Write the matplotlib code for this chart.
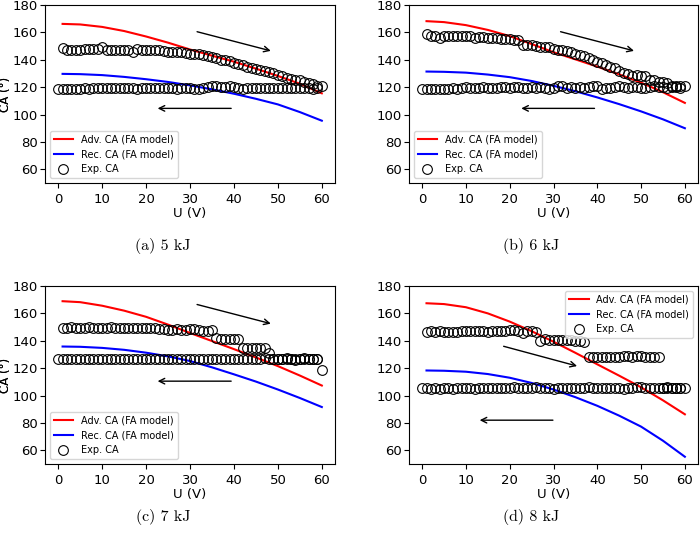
import numpy as np
import matplotlib
matplotlib.use("Agg")
import matplotlib.pyplot as plt

# model curves (FA model), sampled every 5 V
u_model = [1, 5, 10, 15, 20, 25, 30, 35, 40, 45, 50, 55, 60]
adv_a = [166.2, 165.8, 164.0, 161.0, 157.0, 152.5, 147.5, 143.0, 138.6, 133.5, 128.2, 122.5, 115.5]
rec_a = [129.7, 129.5, 128.8, 127.5, 125.8, 123.8, 121.3, 118.4, 115.2, 111.5, 107.4, 101.8, 95.5]
adv_b = [168.2, 167.5, 165.3, 161.8, 157.3, 151.5, 145.5, 140.3, 135.0, 129.3, 123.3, 116.3, 108.5]
rec_b = [131.4, 131.2, 130.6, 129.2, 127.3, 124.5, 121.0, 117.0, 112.5, 107.6, 102.3, 96.5, 90.0]
adv_c = [168.9, 168.2, 165.6, 162.0, 157.5, 151.8, 145.7, 139.8, 133.9, 127.8, 121.5, 114.6, 107.3]
rec_c = [135.8, 135.6, 134.8, 133.4, 131.3, 128.6, 125.2, 120.6, 115.5, 110.2, 104.4, 98.2, 91.6]
adv_d = [167.4, 166.8, 164.5, 160.0, 154.0, 147.0, 139.3, 131.2, 122.8, 114.5, 106.0, 96.5, 86.3]
rec_d = [118.3, 118.1, 117.4, 115.7, 113.0, 109.2, 104.4, 98.8, 92.5, 85.3, 77.3, 67.0, 55.3]

# experimental CA: upper branch U = 1..60, lower branch U = 0..59
up_a = [148.5, 147.5, 147.5, 147.5, 147.5, 148, 148, 148, 148, 149, 147.5, 147, 147, 147.5, 147.5,
        147.5, 145.5, 148, 147, 147, 147.5, 147, 147, 146.5, 146, 145.5, 145.5, 145.5, 145, 144.5,
        144.5, 144, 143.5, 143, 142, 141, 140, 139.5, 139, 138, 137, 136, 135, 134, 133.5,
        132.5, 131.5, 131, 130, 129, 128, 127, 126, 125.5, 125, 124, 123, 122, 121, 121]
low_a = [118.5, 119, 119, 119, 118.5, 119, 119.5, 119, 119.5, 119.5, 119.5, 119.5, 119.5, 119.5, 119.5,
         119.5, 119.5, 119.5, 119, 119.5, 119.5, 119.5, 119.5, 119.5, 119.5, 119.5, 119.5, 119, 119.5, 119.5,
         119.5, 119, 119, 119.5, 120, 120.5, 120.5, 120, 120, 121, 120, 119.5, 119, 119.5, 119.5,
         119.5, 119.5, 119.5, 119.5, 119.5, 119.5, 119.5, 119.5, 119.5, 119.5, 119.5, 119.5, 119.5, 119, 119.5]
up_b = [158.5, 157.5, 157, 156, 157.5, 157, 157, 157, 157, 157.5, 157, 156, 156.5, 156.5, 156,
        156, 156, 155.5, 155, 155, 154.5, 154.5, 151, 150.5, 151, 150, 149.5, 149.5, 149, 148,
        147, 147, 146.5, 145.5, 144.5, 143.5, 142.5, 141.5, 140, 138.5, 138, 136.5, 135, 134, 132,
        130.5, 129.5, 128.5, 129, 128.5, 128, 125, 125.5, 124, 124, 123, 121, 120.5, 120.5, 120.5]
low_b = [119, 119, 119, 119, 119, 119, 119, 119.5, 119, 119.5, 120, 119.5, 119.5, 119.5, 120,
         119.5, 119.5, 119.5, 120, 120, 119.5, 120, 120, 119.5, 119.5, 120, 119.5, 120, 119.5, 119,
         119.5, 120.5, 120.5, 119.5, 120, 119.5, 120, 119.5, 120, 120.5, 120.5, 119, 119.5, 119.5, 120,
         120.5, 120, 119.5, 120, 120, 119.5, 119.5, 120, 120.5, 120, 120, 119.5, 120, 120, 119.5]
up_c = [149, 149.5, 150, 149.5, 149, 149.5, 150, 149.5, 149, 149.5, 149.5, 150, 149, 149.5, 149.5,
        149.5, 149, 149, 149, 149, 149, 149, 148.5, 148.5, 148, 148, 148.5, 148, 148, 148.5,
        148.5, 148, 147.5, 147.5, 148, 142, 141.5, 141, 141, 141.5, 141.5, 135, 134.5, 134.5, 135,
        135, 134.5, 131, 127, 127, 127, 127.5, 127, 126, 127, 127.5, 127, 127, 126.5, 119]
low_c = [126.5, 127, 127, 127, 126.5, 126.5, 127, 127, 126.5, 127, 127, 127, 127, 127, 127,
         126.5, 127, 127, 127, 127, 127, 126.5, 127, 127, 127, 127, 126.5, 127, 127, 127,
         127, 127, 127, 127, 126.5, 127, 127, 127, 127, 127, 127, 127, 127, 127, 127,
         127, 127, 127.5, 127, 127, 127, 127, 127, 127, 127, 127, 127, 127, 127, 126.5]
up_d = [146.5, 147, 146.5, 147, 146.5, 146.5, 146.5, 146.5, 147, 147, 147, 147, 147, 147.5, 146.5,
        147, 147, 147.5, 147.5, 148, 148, 147, 146, 147, 147, 146.5, 140, 141, 140.5, 140.5,
        140.5, 140.5, 140.5, 140.5, 140, 140, 139, 128, 128.5, 128.5, 128.5, 128.5, 128.5, 128, 128.5,
        129, 129, 128.5, 129, 129, 128.5, 128, 128, 128, 105.5, 105.5, 105.5, 105.5, 105.5, 105.5]
low_d = [105.5, 105.5, 105, 105.5, 105, 105.5, 105.5, 105, 105.5, 105.5, 105.5, 105.5, 105, 105.5, 105.5,
         105.5, 105.5, 105.5, 105.5, 105.5, 105.5, 106, 105.5, 105.5, 105.5, 105.5, 106, 105.5, 105.5, 105.5,
         105, 105.5, 105.5, 105.5, 105.5, 105.5, 105.5, 105.5, 106, 105.5, 105.5, 105.5, 105.5, 105.5, 105.5,
         105.5, 105, 105.5, 105.5, 106, 106, 105.5, 105.5, 105.5, 105.5, 105.5, 106, 105.5, 105.5, 105.5]

# arrows: (tail, head) in data coords
arrows_a = [((31, 161), (49, 146)), ((40, 104.5), (22, 104.5))]
arrows_b = [((31, 161), (49, 146)), ((40, 104.5), (22, 104.5))]
arrows_c = [((31, 167), (49, 152)), ((40, 110.5), (22, 110.5))]
arrows_d = [((18, 136.5), (36, 121)), ((30.5, 82), (12.5, 82))]

captions = ["(a) 5 kJ", "(b) 6 kJ", "(c) 7 kJ", "(d) 8 kJ"]

panels = [
    (adv_a, rec_a, up_a, low_a, arrows_a, "lower left"),
    (adv_b, rec_b, up_b, low_b, arrows_b, "lower left"),
    (adv_c, rec_c, up_c, low_c, arrows_c, "lower left"),
    (adv_d, rec_d, up_d, low_d, arrows_d, "upper right"),
]

W, H = 700, 535
fig = plt.figure(figsize=(7, 5.35), dpi=100)

# axes boxes in pixels: left, top, right, bottom
boxes = [(45, 5, 335, 183), (409, 5, 698, 183), (45, 286, 335, 464), (409, 286, 698, 464)]
cap_pos = [(163, 246), (531, 246), (163, 517), (531, 517)]

for i, (adv, rec, up, low, arrows, loc) in enumerate(panels):
    l, t, r, b = boxes[i]
    ax = fig.add_axes([l / W, 1 - b / H, (r - l) / W, (b - t) / H])
    ax.plot(u_model, adv, color="red", lw=1.5, label="Adv. CA (FA model)")
    ax.plot(u_model, rec, color="blue", lw=1.5, label="Rec. CA (FA model)")
    ax.plot(np.arange(1, len(up) + 1), up, "o", mfc="none", mec="black", ms=7, mew=0.8,
            label="Exp. CA")
    ax.plot(np.arange(0, len(low)), low, "o", mfc="none", mec="black", ms=7, mew=0.8)
    for tail, head in arrows:
        ax.annotate("", xy=head, xytext=tail,
                    arrowprops=dict(arrowstyle="->", color="black", lw=1))
    ax.set_xlim(-3, 63)
    ax.set_ylim(50, 180)
    ax.set_xticks(range(0, 61, 10))
    ax.set_yticks(range(60, 181, 20))
    ax.tick_params(labelsize=9.5)
    ax.tick_params(axis="y", pad=1.5)
    ax.set_xlabel("U (V)", fontsize=9.5, labelpad=1)
    ax.set_ylabel("CA (°)", fontsize=8.5)
    # keep the y label just inside the figure edge
    ax.yaxis.set_label_coords(-(l - 12.5) / (r - l), 0.5)
    ax.legend(loc=loc, fontsize=7)
    cx, cy = cap_pos[i]
    fig.text(cx / W, 1 - cy / H, captions[i], ha="center", va="center",
             fontfamily="cmr10", fontsize=11.5)

fig.savefig("out.png", dpi=100)
